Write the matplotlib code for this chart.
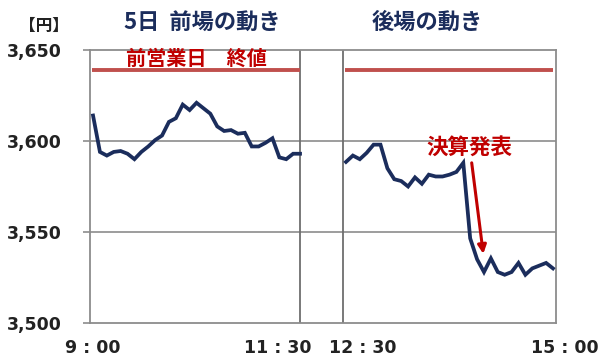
import matplotlib

matplotlib.use("agg")
import matplotlib.pyplot as plt
import numpy as np

# prices, 5-minute steps
am_prices = [3614, 3594, 3592, 3594, 3594.5, 3593, 3590, 3594, 3597, 3600.5,
             3603, 3610.5, 3612.5, 3620, 3617, 3621, 3618, 3615, 3608, 3605.5,
             3606, 3604, 3604.5, 3597, 3597, 3599, 3601.5, 3591, 3590, 3593, 3593]
pm_prices = [3588.5, 3592, 3590, 3593.5, 3598, 3598, 3585, 3579, 3578, 3575,
             3580, 3576.5, 3581.5, 3580.5, 3580.5, 3581.5, 3583, 3588, 3546.5, 3535,
             3528, 3535.5, 3528, 3526.5, 3528, 3533, 3526.5, 3530, 3531.5, 3533, 3530]
prev_close = 3639

# x in minutes; lunch break compressed to a short gap
am_x = np.arange(len(am_prices)) * 5.0
pm_x = 183.3 + np.arange(len(pm_prices)) * 5.0
am_end, pm_start = 150, 181.2

y_ticks = [3500, 3550, 3600, 3650]
y_labels = ["3,500", "3,550", "3,600", "3,650"]
time_labels = ["9 : 00", "11 : 30", "12 : 30", "15 : 00"]
time_label_x = [0, 134, 195.5, 342]

NAVY = "#1b2d5c"
RED = "#c00000"
LINE_RED = "#c0504d"
GRAY = "#8c8c8c"
JP = ["Noto Sans CJK JP", "DejaVu Sans"]

fig = plt.figure(figsize=(6, 3.6), dpi=100)
ax = fig.add_axes([0.15, 0.1028, 0.7767, 0.7583])

ax.set_xlim(-2.2, pm_x[-1] + 2.2)
ax.set_ylim(3500, 3650)

for y in y_ticks[1:3]:
    ax.axhline(y, color=GRAY, lw=1.2, zorder=1)
ax.axvline(am_end, color="#6e6e6e", lw=1.3, zorder=1)
ax.axvline(pm_start, color="#6e6e6e", lw=1.3, zorder=1)

for s in ax.spines.values():
    s.set_color(GRAY)
    s.set_linewidth(1.3)

ax.hlines(prev_close, am_x[0] - 1, am_x[-1], color=LINE_RED, lw=2.8, zorder=2)
ax.hlines(prev_close, pm_x[0] - 1, pm_x[-1], color=LINE_RED, lw=2.8, zorder=2)

ax.plot(am_x, am_prices, color=NAVY, lw=2.7, solid_joinstyle="miter", zorder=3)
ax.plot(pm_x, pm_prices, color=NAVY, lw=2.7, solid_joinstyle="miter", zorder=3)

ax.set_yticks(y_ticks)
ax.set_yticklabels(y_labels, fontsize=12.5, fontweight="bold", color="#222222")
ax.tick_params(axis="y", length=5, width=1.2, color=GRAY, pad=15)
ax.set_xticks([])

for lbl, x in zip(time_labels, time_label_x):
    ax.text(x, -0.09, lbl, transform=ax.get_xaxis_transform(), ha="center",
            va="center", fontsize=12.5, fontweight="bold", color="#222222", clip_on=False)

fig.text(0.073, 0.928, "【円】", family=JP, fontsize=12, fontweight="bold",
         ha="center", va="center", color="#222222")
fig.text(0.337, 0.938, "5日  前場の動き", family=JP, fontsize=16, fontweight="bold",
         ha="center", va="center", color=NAVY)
fig.text(0.712, 0.938, "後場の動き", family=JP, fontsize=16, fontweight="bold",
         ha="center", va="center", color=NAVY)
ax.text(75, 3645.5, "前営業日　終値", family=JP, fontsize=14.5, fontweight="bold",
        ha="center", va="center", color=RED)

ax.text(273, 3596.5, "決算発表", family=JP, fontsize=15.5, fontweight="bold",
        ha="center", va="center", color=RED)
ax.annotate("", xy=(282.8, 3538), xytext=(274.4, 3588),
            arrowprops=dict(arrowstyle="-|>,head_length=0.5,head_width=0.25",
                            color=RED, lw=2.2, shrinkA=0, shrinkB=0))

fig.savefig("out.png", dpi=100, facecolor="white")
